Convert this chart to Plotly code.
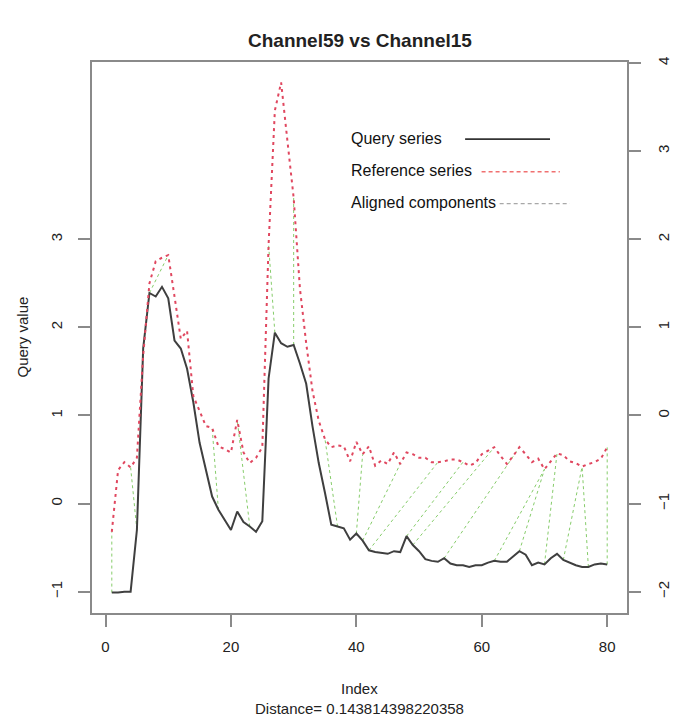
import plotly.graph_objects as go

# ---------------- data ----------------
index = list(range(1, 81))
query = [-1.01, -1.01, -1.00, -1.00, -0.30, 1.76, 2.39, 2.35, 2.46, 2.33,
         1.85, 1.76, 1.53, 1.15, 0.69, 0.39, 0.08, -0.07, -0.18, -0.30,
         -0.09, -0.21, -0.26, -0.32, -0.20, 1.42, 1.94, 1.82, 1.78, 1.80,
         1.59, 1.36, 0.88, 0.46, 0.12, -0.24, -0.26, -0.28, -0.41, -0.34,
         -0.42, -0.53, -0.55, -0.56, -0.57, -0.54, -0.55, -0.37, -0.47, -0.54,
         -0.63, -0.65, -0.66, -0.62, -0.68, -0.70, -0.70, -0.72, -0.70, -0.70,
         -0.67, -0.65, -0.66, -0.66, -0.60, -0.54, -0.58, -0.70, -0.67, -0.69,
         -0.62, -0.57, -0.64, -0.67, -0.70, -0.72, -0.72, -0.69, -0.68, -0.69]
reference = [-1.32, -0.62, -0.53, -0.59, -0.48, 0.68, 1.50, 1.75, 1.79, 1.82,
             1.35, 0.87, 0.96, 0.22, 0.05, -0.12, -0.14, -0.35, -0.38, -0.42,
             -0.05, -0.42, -0.54, -0.48, -0.36, 1.94, 3.46, 3.78, 3.12, 2.47,
             1.44, 0.82, 0.28, -0.06, -0.27, -0.36, -0.34, -0.35, -0.52, -0.30,
             -0.44, -0.35, -0.57, -0.51, -0.55, -0.42, -0.55, -0.42, -0.44, -0.48,
             -0.48, -0.53, -0.53, -0.52, -0.50, -0.50, -0.53, -0.57, -0.54, -0.44,
             -0.40, -0.36, -0.46, -0.55, -0.46, -0.36, -0.44, -0.53, -0.49, -0.61,
             -0.52, -0.43, -0.45, -0.52, -0.54, -0.58, -0.55, -0.53, -0.49, -0.36]
offset = 1
# aligned index pairs (query index, reference index)
align_query = [1, 5, 7, 18, 23, 27, 30, 37, 40, 41, 42, 48, 49, 54, 62, 66, 70, 73, 77, 80]
align_ref = [1, 4, 10, 17, 21, 26, 30, 35, 41, 47, 53, 57, 62, 66, 70, 70, 72, 76, 76, 80]

x_ticks = [0, 20, 40, 60, 80]
left_ticks = [-1, 0, 1, 2, 3]
right_ticks = [-2, -1, 0, 1, 2, 3, 4]

title_text = "Channel59 vs Channel15"
xlab = "Index"
ylab = "Query value"
sub_text = "Distance= 0.143814398220358"
legend_labels = ["Query series", "Reference series", "Aligned components"]

# ---------------- ranges (R style 4% extension) ----------------
xmin, xmax = min(index), max(index)
xpad = 0.04 * (xmax - xmin)
x_range = [xmin - xpad, xmax + xpad]
ref_shift = [r + offset for r in reference]
ylo = min(min(query), min(ref_shift))
yhi = max(max(query), max(ref_shift))
ypad = 0.04 * (yhi - ylo)
y_range = [ylo - ypad, yhi + ypad]
y2_range = [y_range[0] - offset, y_range[1] - offset]

FONT = "Liberation Sans, Arial, sans-serif"
TXT = "#222222"
AXC = "#8a8a8a"

fig = go.Figure()

# alignment segments
ax, ay = [], []
for qi, rj in zip(align_query, align_ref):
    ax += [qi, rj, None]
    ay += [query[qi - 1], reference[rj - 1] + offset, None]
fig.add_trace(go.Scatter(x=ax, y=ay, mode="lines", yaxis="y",
                         line=dict(color="#86cc6a", width=1, dash="3px,3px"),
                         hoverinfo="skip", showlegend=False))

# query series
fig.add_trace(go.Scatter(x=index, y=query, mode="lines", yaxis="y",
                         line=dict(color="#3f3f3f", width=2),
                         name=legend_labels[0], showlegend=False))

# reference series on the right (offset) axis
fig.add_trace(go.Scatter(x=index, y=reference, mode="lines", yaxis="y2",
                         line=dict(color="#e0475f", width=2, dash="3px,4px"),
                         name=legend_labels[1], showlegend=False))

axis_common = dict(showgrid=False, zeroline=False, showline=True, linecolor=AXC,
                   linewidth=1.5, ticks="outside", ticklen=12, tickcolor=AXC,
                   tickwidth=1.5, tickfont=dict(family=FONT, size=15, color=TXT))

# page body has an 8px margin: the figure is sized to fill the rest
fig.update_layout(
    width=676, height=710,
    margin=dict(l=84, r=50, t=54, b=105),
    paper_bgcolor="white", plot_bgcolor="white",
    showlegend=False,
    xaxis=dict(range=x_range, tickvals=x_ticks, mirror=True,
               ticklabelstandoff=7, **axis_common),
    yaxis=dict(range=y_range, tickvals=left_ticks, tickangle=-90, mirror=True,
               ticklabelstandoff=10, **axis_common),
    yaxis2=dict(range=y2_range, tickvals=right_ticks, tickangle=-90,
                overlaying="y", side="right", ticklabelstandoff=10, **axis_common),
)

# titles
fig.add_annotation(text="<b>" + title_text + "</b>", xref="paper", yref="paper",
                   x=0.5, y=1.0, yshift=22, yanchor="middle", showarrow=False,
                   font=dict(family=FONT, size=19, color=TXT))
fig.add_annotation(text=xlab, xref="paper", yref="paper", x=0.5, y=0,
                   yshift=-75, yanchor="middle", showarrow=False,
                   font=dict(family=FONT, size=15, color=TXT))
fig.add_annotation(text=sub_text, xref="paper", yref="paper", x=0.5, y=0,
                   yshift=-95, yanchor="middle", showarrow=False,
                   font=dict(family=FONT, size=15, color=TXT))
fig.add_annotation(text=ylab, xref="paper", yref="paper", x=0, y=0.5,
                   xshift=-70, xanchor="center", textangle=-90, showarrow=False,
                   font=dict(family=FONT, size=15, color=TXT))

# custom legend (text left, line sample right)
leg_y = [0.862, 0.803, 0.745]
leg_line_x = [(0.6974, 0.8561), (0.7282, 0.8745), (0.762, 0.893)]
leg_style = [dict(color="#333333", width=1.8),
             dict(color="#f07070", width=1.5, dash="4px,3px"),
             dict(color="#a8a8a8", width=1.2, dash="4px,3px")]
for lab, yy, (x0, x1), st in zip(legend_labels, leg_y, leg_line_x, leg_style):
    fig.add_annotation(text=lab, xref="paper", yref="paper", x=0.4797, y=yy,
                       xanchor="left", yanchor="middle", showarrow=False,
                       font=dict(family=FONT, size=16, color="#111111"))
    fig.add_shape(type="line", xref="paper", yref="paper", x0=x0, x1=x1,
                  y0=yy - 0.002, y1=yy - 0.002, line=st)

fig.write_html("out.html")
